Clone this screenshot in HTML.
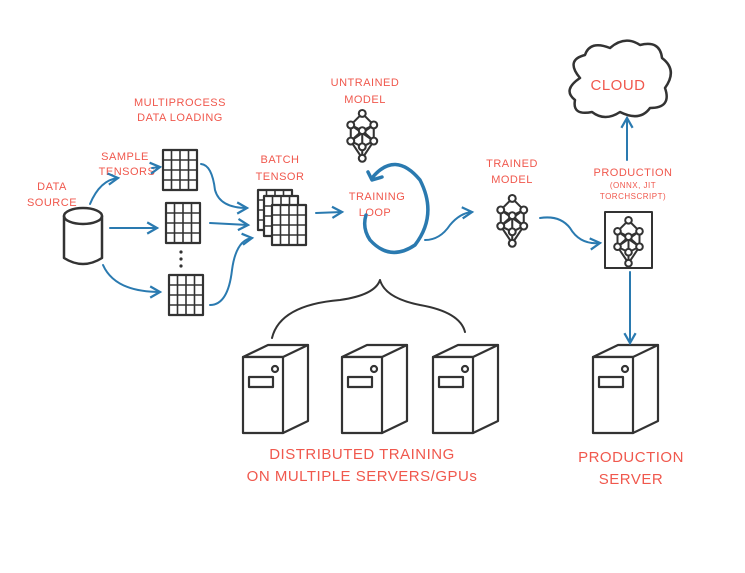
<!DOCTYPE html>
<html><head><meta charset="utf-8"><style>
body{margin:0;background:#fff}
svg{display:block}
text{font-family:"Liberation Sans",sans-serif;fill:#f0584d;text-anchor:middle;letter-spacing:0.5px}
.k{stroke:#333;fill:none;stroke-width:2.5;stroke-linecap:round;stroke-linejoin:round}
.b{stroke:#2a7ab0;fill:none;stroke-width:2;stroke-linecap:round;stroke-linejoin:round}
</style></head><body>
<svg width="745" height="573" viewBox="0 0 745 573">
<defs>
<g id="net" class="k" style="stroke-width:1.8">
<path d="M15 3 L5 13 M15 3 L25 13 M5 13 L15 18 M25 13 L15 18 M5 13 L5 27 M25 13 L25 27 M15 18 L5 27 M15 18 L25 27 M15 18 L15 32 M5 27 L15 32 M25 27 L15 32 M5 27 L15 42 M25 27 L15 42 M15 32 L15 42 M5 13 L25 27 M25 13 L5 27"/>
<g style="fill:#fff"><circle cx="15" cy="3" r="3"/><circle cx="5" cy="13" r="3"/><circle cx="25" cy="13" r="3"/><circle cx="15" cy="18" r="3"/><circle cx="5" cy="27" r="3"/><circle cx="25" cy="27" r="3"/><circle cx="15" cy="32" r="3"/><circle cx="15" cy="42" r="3"/></g>
</g>
<g id="grid" class="k" style="stroke-width:2.2">
<rect x="0" y="0" width="34" height="40"/>
<path d="M8.5 0V40M17 0V40M25.5 0V40M0 10H34M0 20H34M0 30H34" style="stroke-width:1.6"/>
</g>
<g id="srv" class="k" style="stroke-width:2.2">
<path d="M0 12 L25 0 L65 0 L40 12 Z" style="fill:#fff"/>
<path d="M65 0 L65 76 L40 88" />
<rect x="0" y="12" width="40" height="76" style="fill:#fff"/>
<circle cx="32" cy="24" r="3"/>
<rect x="6" y="32" width="24" height="10"/>
</g>
<marker id="ah" viewBox="0 0 10 10" refX="8" refY="5" markerWidth="7" markerHeight="7" orient="auto"><path d="M1 1 L8 5 L1 9" fill="none" stroke="#2a7ab0" stroke-width="1.6"/></marker>
</defs>

<g font-size="11">
<text x="180" y="106">MULTIPROCESS</text><text x="180" y="121">DATA LOADING</text>
<text x="125" y="160">SAMPLE</text><text x="127" y="175">TENSORS</text>
<text x="52" y="190">DATA</text><text x="52" y="206">SOURCE</text>
<text x="280" y="163">BATCH</text><text x="280" y="180">TENSOR</text>
<text x="365" y="86">UNTRAINED</text><text x="365" y="103">MODEL</text>
<text x="377" y="200">TRAINING</text><text x="375" y="216">LOOP</text>
<text x="512" y="167">TRAINED</text><text x="512" y="183">MODEL</text>
<text x="633" y="176">PRODUCTION</text>
</g>
<g font-size="8"><text x="633" y="188">(ONNX, JIT</text><text x="633" y="199">TORCHSCRIPT)</text></g>
<text x="618" y="90" font-size="15">CLOUD</text>
<g font-size="15"><text x="362" y="459">DISTRIBUTED TRAINING</text><text x="362" y="481">ON MULTIPLE SERVERS/GPUs</text>
<text x="631" y="462">PRODUCTION</text><text x="631" y="484">SERVER</text></g>

<g class="k"><ellipse cx="83" cy="216" rx="19" ry="8"/><path d="M64 216 V258 Q83 270 102 258 V216"/></g>

<use href="#grid" x="163" y="150"/>
<use href="#grid" x="166" y="203"/>
<use href="#grid" x="169" y="275"/>
<g fill="#333"><circle cx="181" cy="252" r="1.6"/><circle cx="181" cy="259" r="1.6"/><circle cx="181" cy="266" r="1.6"/></g>
<use href="#grid" x="258" y="190"/>
<rect x="264" y="196" width="34" height="40" fill="#fff"/>
<use href="#grid" x="264" y="196"/>
<rect x="272" y="205" width="34" height="40" fill="#fff"/>
<use href="#grid" x="272" y="205"/>

<use href="#net" transform="translate(345,110) scale(1.15)"/>
<use href="#net" transform="translate(495,195) scale(1.15)"/>
<rect x="605" y="212" width="47" height="56" class="k" style="stroke-width:2"/>
<use href="#net" transform="translate(612,217) scale(1.1)"/>

<path class="k" d="M580 78 Q565 60 585 55 Q590 40 610 48 Q625 35 640 45 Q660 40 662 58 Q678 70 665 88 Q672 108 650 108 Q640 122 620 112 Q605 122 592 112 Q572 116 575 100 Q562 90 580 78 Z"/>

<use href="#srv" x="243" y="345"/>
<use href="#srv" x="342" y="345"/>
<use href="#srv" x="433" y="345"/>
<use href="#srv" x="593" y="345"/>

<path class="k" style="stroke-width:2" d="M272 338 Q280 305 340 300 Q375 295 380 280 Q385 298 420 305 Q460 312 465 332"/>

<path d="M372 178 Q395 150 420 180 Q438 215 415 245 Q390 262 370 240 Q362 228 366 215" fill="none" stroke="#2a7ab0" stroke-width="3.5" stroke-linecap="round"/>
<path d="M368 172 L372 180 L382 177" fill="none" stroke="#2a7ab0" stroke-width="3.5" stroke-linecap="round" stroke-linejoin="round"/>

<g class="b" marker-end="url(#ah)">
<path d="M90 204 Q100 180 118 178"/>
<path d="M152 168 L160 167"/>
<path d="M110 228 L157 228"/>
<path d="M103 265 Q115 292 160 292"/>
<path d="M201 164 Q212 165 215 190 Q220 208 247 208"/>
<path d="M210 223 L248 225"/>
<path d="M210 305 Q228 305 232 270 Q236 240 252 238"/>
<path d="M316 213 L342 212"/>
<path d="M425 240 Q440 240 450 225 Q460 213 472 212"/>
<path d="M540 218 Q560 215 570 228 Q580 245 600 243"/>
<path d="M627 160 L627 118"/>
<path d="M630 272 L630 343"/>
</g>
</svg>
</body></html>
